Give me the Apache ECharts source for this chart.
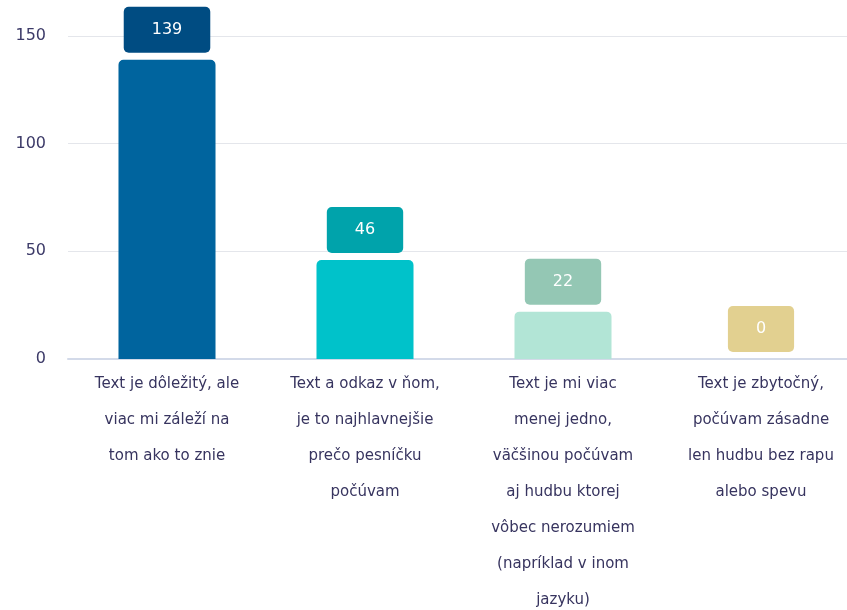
<!DOCTYPE html>
<html>
<head>
<meta charset="utf-8">
<script src="https://cdn.jsdelivr.net/npm/echarts@6/dist/echarts.min.js"></script>
<style>
  html, body { margin: 0; padding: 0; background: #fff; }
  #chart { width: 847px; height: 610px; }
</style>
</head>
<body>
<div id="chart"></div>
<script>
// kategórie (zalomené ako v origináli)
const categories = [
  'Text je dôležitý, ale\nviac mi záleží na\ntom ako to znie',
  'Text a odkaz v ňom,\nje to najhlavnejšie\nprečo pesníčku\npočúvam',
  'Text je mi viac\nmenej jedno,\nväčšinou počúvam\naj hudbu ktorej\nvôbec nerozumiem\n(napríklad v inom\njazyku)',
  'Text je zbytočný,\npočúvam zásadne\nlen hudbu bez rapu\nalebo spevu'
]
const values = [139, 46, 22, 0]
const yTicks = [0, 50, 100, 150]

const barColors = ['#00649e', '#00c2ca', '#b2e5d6', '#e8d898']
const labelColors = ['#004c82', '#00a3ab', '#94c7b4', '#e2d090']

const chart = echarts.init(document.getElementById('chart'))

const option = {
  animation: false,
  grid: { left: 68, right: -13, top: 36, bottom: 251, containLabel: false, outerBoundsMode: 'none' },
  xAxis: {
    type: 'category',
    data: categories,
    axisTick: { show: false },
    axisLine: { lineStyle: { color: '#d3dae9', width: 2 } },
    axisLabel: {
      interval: 0,
      margin: 7,
      color: '#37345f',
      fontFamily: 'DejaVu Sans',
      fontSize: 15,
      lineHeight: 36
    }
  },
  yAxis: {
    type: 'value',
    min: yTicks[0],
    max: yTicks[yTicks.length - 1],
    interval: 50,
    axisLine: { show: false },
    axisTick: { show: false },
    splitLine: { lineStyle: { color: '#e4e6eb' } },
    axisLabel: { margin: 22, color: '#3c3a68', fontFamily: 'DejaVu Sans', fontSize: 16 }
  },
  series: [{
    type: 'bar',
    barWidth: '49%',
    data: values.map((v, i) => ({
      value: v,
      itemStyle: { color: barColors[i], borderRadius: [5, 5, 0, 0] },
      label: { backgroundColor: labelColors[i] }
    })),
    label: {
      show: true,
      position: 'top',
      distance: 7,
      color: '#fff',
      fontFamily: 'DejaVu Sans',
      fontSize: 16,
      padding: [15, 28],
      borderRadius: 5
    }
  }]
}

chart.setOption(option)
</script>
</body>
</html>
